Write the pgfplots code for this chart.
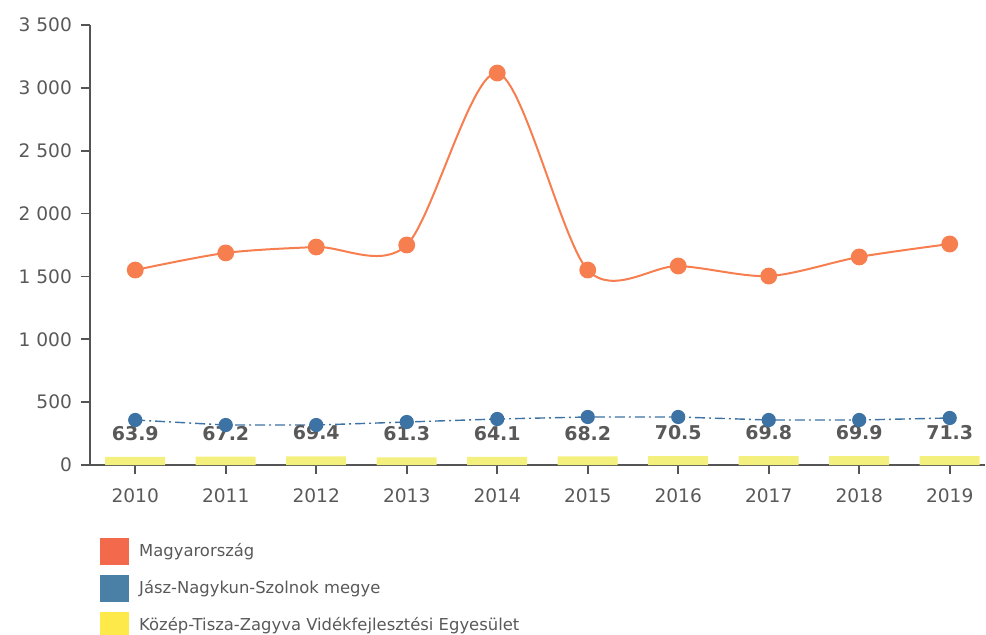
\documentclass[border=0pt]{standalone}
\usepackage{pgfplots}
\pgfplotsset{compat=1.18}
\usepackage{fontspec}
\setmainfont{DejaVu Sans}
\definecolor{orng}{HTML}{F77E4F}
\definecolor{blu}{HTML}{3C72A4}
\definecolor{ylw}{HTML}{F4F07E}
\definecolor{lorng}{HTML}{F26A4B}
\definecolor{lblu}{HTML}{4A80A6}
\definecolor{lylw}{HTML}{FDE94A}
\definecolor{txt}{HTML}{595959}
\definecolor{axc}{HTML}{555555}
\begin{document}
\begin{tikzpicture}
\useasboundingbox (-45pt,-84.5pt) rectangle (448pt,232.5pt);
\begin{axis}[
  at={(0,0)}, anchor=south west,
  scale only axis,
  width=447.5pt, height=220pt,
  xmin=-0.5, xmax=9.39,
  ymin=0, ymax=3500,
  axis x line=bottom, axis y line=left,
  axis line style={-, draw=axc, line width=0.8pt},
  tick style={draw=axc, line width=0.8pt},
  tick align=outside,
  major tick length=4.5pt,
  xtick={0,...,9},
  xticklabels={2010,2011,2012,2013,2014,2015,2016,2017,2018,2019},
  ytick={0,500,1000,1500,2000,2500,3000,3500},
  yticklabels={0,500,1 000,1 500,2 000,2 500,3 000,3 500},
  tick label style={font=\fontsize{9.3pt}{11pt}\selectfont, text=txt},
  xticklabel style={yshift=-4pt},
  yticklabel style={xshift=-1pt},
  /pgf/number format/assume math mode=true,
  clip=false,
  legend style={at={(0,0)}, anchor=north west, xshift=5pt, yshift=-36.5pt,
    draw=none, fill=none, font=\fontsize{8.2pt}{9pt}\selectfont, text=txt,
    row sep=5pt, inner sep=0pt},
  legend cell align=left,
]
\addplot[ybar, bar width=30pt, fill=ylw, draw=none, forget plot,
  nodes near coords, point meta=explicit symbolic,
  nodes near coords style={anchor=south, yshift=4.5pt, text=txt,
    font=\fontsize{9.5pt}{11pt}\selectfont\bfseries}]
  coordinates {(0,63.9)[63.9] (1,67.2)[67.2] (2,69.4)[69.4] (3,61.3)[61.3] (4,64.1)[64.1]
               (5,68.2)[68.2] (6,70.5)[70.5] (7,69.8)[69.8] (8,69.9)[69.9] (9,71.3)[71.3]};
\addplot[blu, line width=0.7pt, dash pattern=on 5pt off 2pt on 1pt off 2pt, mark=*, mark size=3.2pt,
  mark options={solid, fill=blu, draw=blu}, forget plot]
  coordinates {(0,358) (1,318) (2,318) (3,342) (4,366) (5,382) (6,382) (7,358) (8,358) (9,374)};
\addplot[orng, line width=1pt, smooth, tension=0.5, mark=*, mark size=3.7pt,
  mark options={fill=orng, draw=orng}, forget plot]
  coordinates {(0,1551) (1,1687) (2,1734) (3,1750) (4,3118) (5,1551) (6,1583) (7,1503) (8,1655) (9,1758)};
\addlegendimage{legend image code/.code={\fill[lorng] (0pt,-6.5pt) rectangle (14pt,6.5pt);}}
\addlegendentry{\hspace{3pt}Magyarország}
\addlegendimage{legend image code/.code={\fill[lblu] (0pt,-6.5pt) rectangle (14pt,6.5pt);}}
\addlegendentry{\hspace{3pt}Jász-Nagykun-Szolnok megye}
\addlegendimage{legend image code/.code={\fill[lylw] (0pt,-6.5pt) rectangle (14pt,6.5pt);}}
\addlegendentry{\hspace{3pt}Közép-Tisza-Zagyva Vidékfejlesztési Egyesület}
\end{axis}
\end{tikzpicture}
\end{document}
